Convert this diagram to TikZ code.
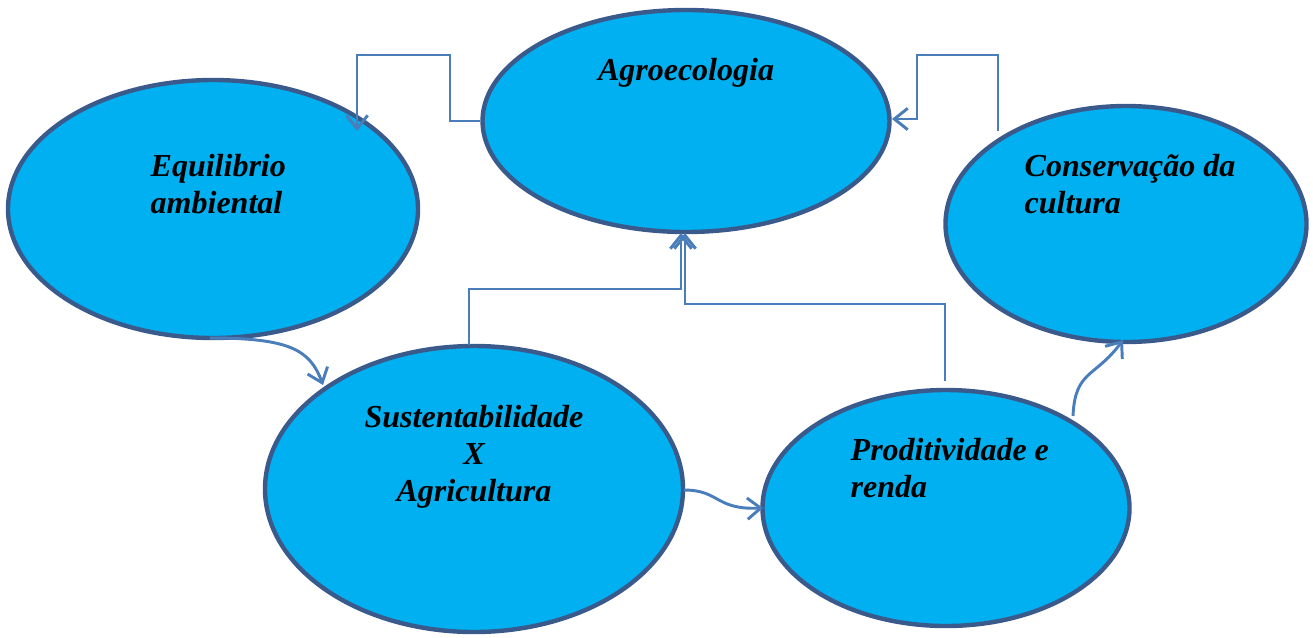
\documentclass[tikz,border=0pt]{standalone}
\usepackage{fontspec}
\setmainfont{Liberation Serif}
\usetikzlibrary{arrows.meta,shapes.geometric}
\definecolor{fillblue}{RGB}{0,176,240}
\definecolor{edgeblue}{RGB}{59,90,140}
\definecolor{linkblue}{RGB}{74,126,187}
\begin{document}
\begin{tikzpicture}[x=0.75pt,y=-0.75pt,
  bubble/.style={ellipse,draw=edgeblue,fill=fillblue,line width=3.3pt,inner sep=0pt},
  lbl/.style={font=\fontsize{24}{27.75}\selectfont\bfseries\itshape,text=black},
  link/.style={draw=linkblue,line width=2.2pt,-{Straight Barb[length=10pt,width=16pt,line width=2.2pt]}}]
\useasboundingbox (0,0) rectangle (1313,637);
\node[bubble,minimum width=407*0.75pt,minimum height=222*0.75pt] (agro) at (686,121) {};
\node[bubble,minimum width=410*0.75pt,minimum height=258*0.75pt] (equi) at (213,209) {};
\node[bubble,minimum width=361*0.75pt,minimum height=236*0.75pt] (cons) at (1126,224) {};
\node[bubble,minimum width=418*0.75pt,minimum height=286*0.75pt] (sust) at (474,489) {};
\node[bubble,minimum width=367*0.75pt,minimum height=236*0.75pt] (prod) at (946,508) {};
\node[lbl] (tagro) at (686,73) {Agroecologia};
\node[lbl,align=left,anchor=west] (tequi) at (146,184) {Equilibrio\\ambiental};
\node[lbl,align=left,anchor=west] (tcons) at (1020,184) {Conservação da\\cultura};
\node[lbl,align=center] (tsust) at (474,457) {Sustentabilidade\\X\\Agricultura};
\node[lbl,align=left,anchor=west] (tprod) at (846,468) {Proditividade e\\renda};
\coordinate (a1) at (agro.west);
\draw[link] (a1) -- (450,121) -- (450,55) -- (357,55) -- (357,131);
\draw[link] (998,131) -- (998,55) -- (917,55) -- (917,119) -- (892,119);
\draw[link] (sust.north -| 469,0) ++(0,1) -- (469,289) -- (681,289) -- (681,233);
\draw[link] (945,381) -- (945,304) -- (685,304) -- (685,233);
\draw[link] (210,338) .. controls (290,338) and (310,350) .. (323,385);
\draw[link] (684,490) .. controls (720,490) and (715,510) .. (763,508);
\draw[link] (1073,416) .. controls (1075,370) and (1095,378) .. (1123,340);
\end{tikzpicture}
\end{document}
